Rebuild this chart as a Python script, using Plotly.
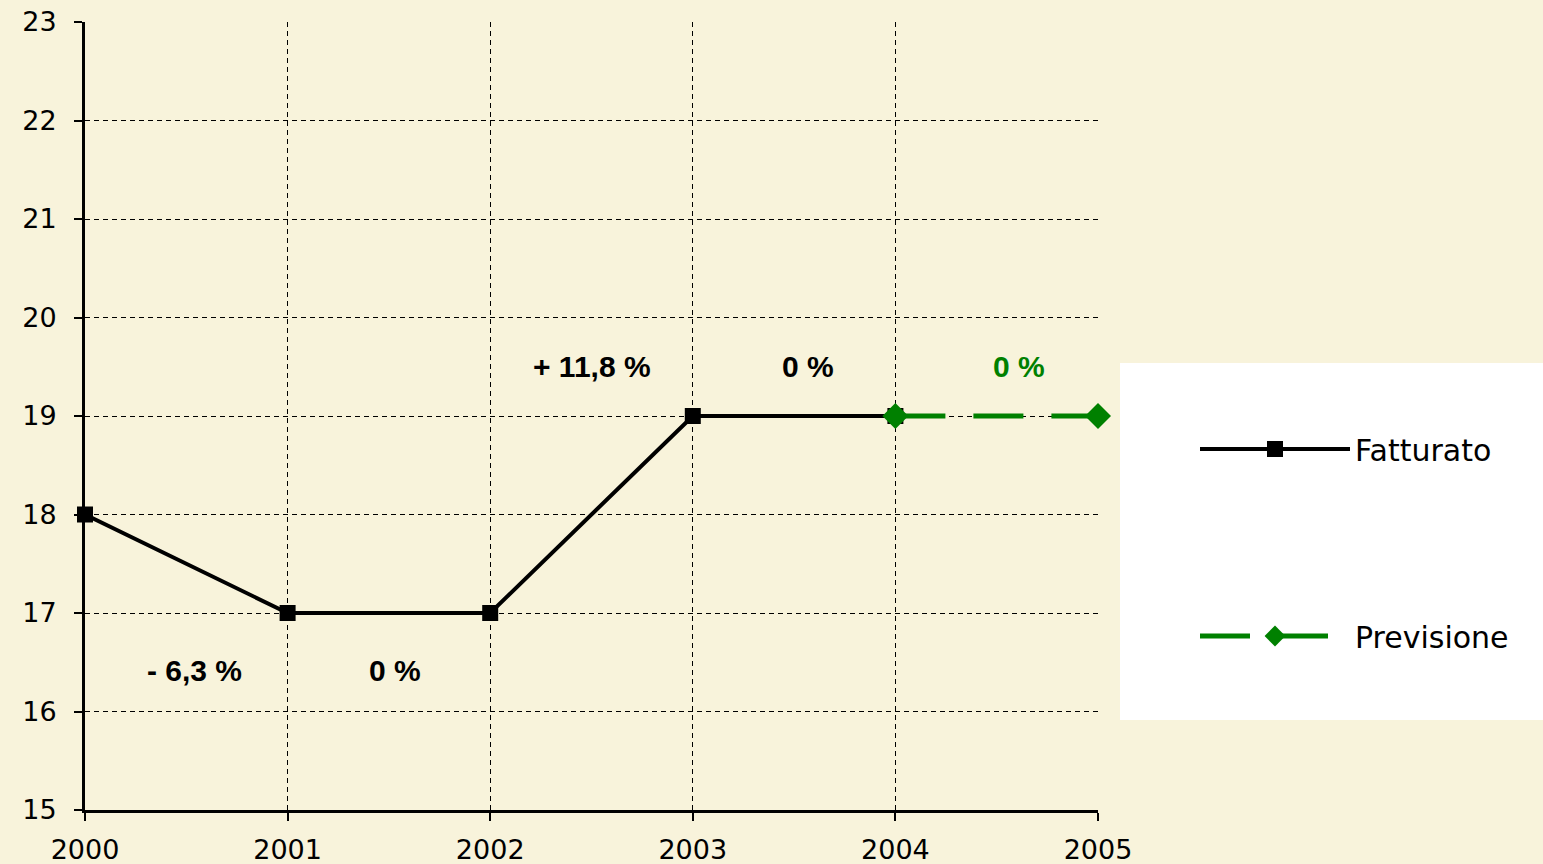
import plotly.graph_objects as go

years_actual = [2000, 2001, 2002, 2003, 2004]
fatturato = [18, 17, 17, 19, 19]
years_forecast = [2004, 2005]
previsione = [19, 19]

label_x = [2000.54, 2001.53, 2002.5, 2003.57, 2004.61]
label_y = [16.42, 16.42, 19.5, 19.5, 19.5]
label_text = ["- 6,3 %", "0 %", "+ 11,8 %", "0 %", "0 %"]
label_color = ["black", "black", "black", "black", "#008000"]

bg = "#F8F3DB"
font = "Liberation Sans, Arial, sans-serif"
wide = "DejaVu Sans, Verdana, sans-serif"

fig = go.Figure()
fig.add_trace(go.Scatter(
    x=years_actual, y=fatturato, name="Fatturato", mode="lines+markers",
    line=dict(color="black", width=4),
    marker=dict(symbol="square", size=16, color="black"),
    legendgroup="a", cliponaxis=False,
))
fig.add_trace(go.Scatter(
    x=years_forecast, y=previsione, name="Previsione", mode="lines+markers",
    line=dict(color="#008000", width=5, dash="50px,28px"),
    marker=dict(symbol="diamond", size=20, color="#008000"),
    legendgroup="b", cliponaxis=False,
))

for x, y, t, c in zip(label_x, label_y, label_text, label_color):
    fig.add_annotation(x=x, y=y, text="<b>" + t + "</b>", showarrow=False,
                       font=dict(size=30, color=c, family=font))

fig.add_shape(type="rect", xref="paper", yref="paper",
              x0=(1120 - 85) / 1013, x1=(1543 - 85) / 1013,
              y0=(810 - 720) / 788, y1=(810 - 363) / 788,
              fillcolor="white", line=dict(width=0), layer="below")

fig.update_layout(
    width=1543, height=864,
    margin=dict(l=85, r=445, t=22, b=54, autoexpand=False),
    paper_bgcolor=bg, plot_bgcolor=bg,
    font=dict(family=wide, size=27, color="black"),
    showlegend=True,
    legend=dict(x=(1195 - 85) / 1013, y=(810 - 423) / 788, xanchor="left", yanchor="top",
                bgcolor="rgba(0,0,0,0)", itemwidth=150, tracegroupgap=145,
                traceorder="grouped", font=dict(size=30, family=wide)),
    xaxis=dict(range=[2000, 2005], tickmode="array", tickvals=[2000, 2001, 2002, 2003, 2004, 2005],
               showline=True, linecolor="black", linewidth=3, ticks="outside", ticklen=8,
               tickwidth=2, tickcolor="black", showgrid=True, gridcolor="black", gridwidth=1,
               griddash="5px,4px", zeroline=False, automargin=False, ticklabelstandoff=6),
    yaxis=dict(range=[15, 23], dtick=1, showline=True, linecolor="black", linewidth=3,
               ticks="outside", ticklen=8, tickwidth=2, tickcolor="black", showgrid=True,
               gridcolor="black", gridwidth=1, griddash="5px,4px", zeroline=False,
               automargin=False, ticklabelstandoff=12),
)

fig.write_html("out.html", config={"displayModeBar": False},
               post_script="document.body.style.margin='0';")
